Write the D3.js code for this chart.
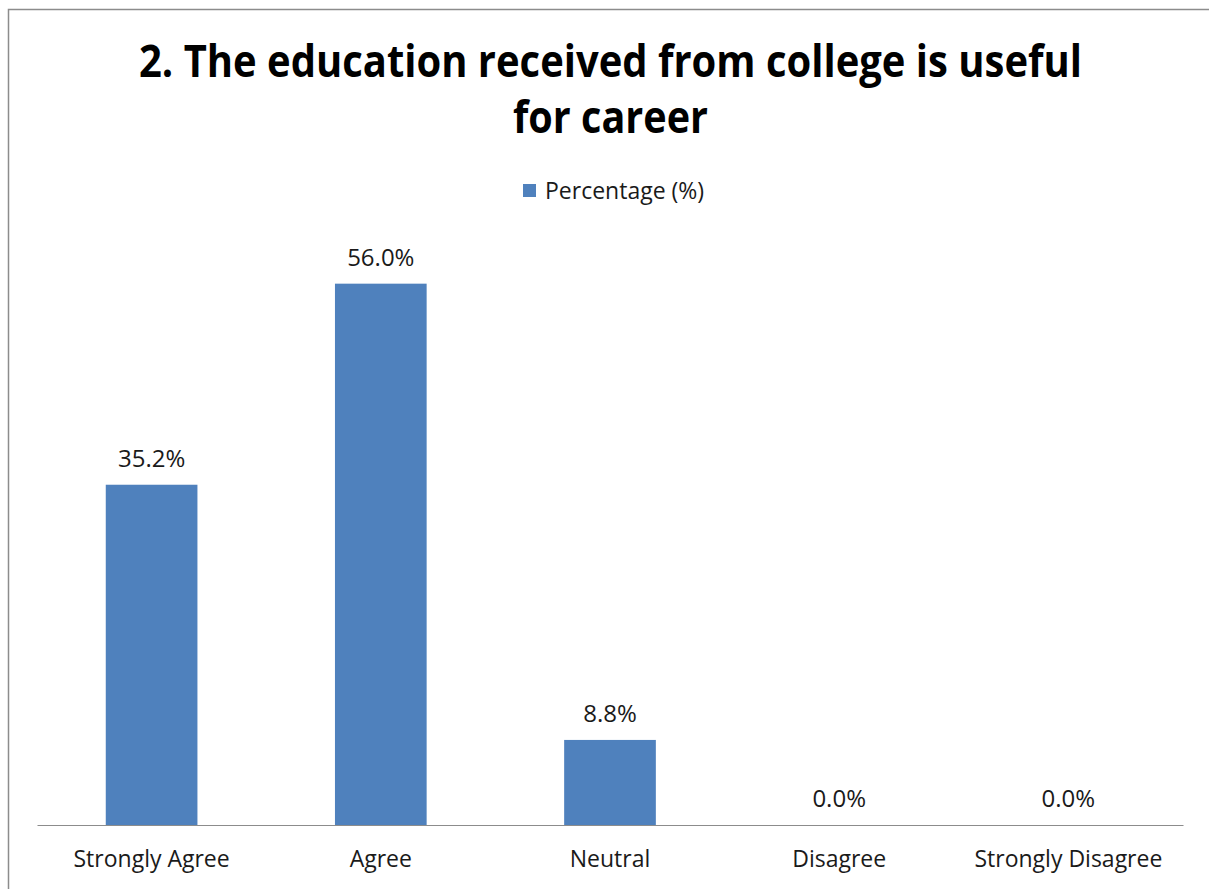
<!DOCTYPE html>
<html>
<head>
<meta charset="utf-8">
<script src="https://cdn.jsdelivr.net/npm/d3@7"></script>
<style>
  body { margin: 0; background: #fff; }
  text { font-family: "Open Sans", "Noto Sans", sans-serif; }
</style>
</head>
<body>
<div id="chart"></div>
<script>
// chart data
var categories = ["Strongly Agree", "Agree", "Neutral", "Disagree", "Strongly Disagree"];
var percentages = [35.2, 56.0, 8.8, 0.0, 0.0];
var seriesName = "Percentage (%)";
var titleLines = ["2. The education received from college is useful", "for career"];

var svgWidth = 1209;
var svgHeight = 889;

var margin = {
    top: 245,
    right: 26,
    bottom: 64,
    left: 37
};

var width = svgWidth - margin.left - margin.right;
var height = svgHeight - margin.top - margin.bottom;

var svg = d3
    .select("#chart")
    .append("svg")
    .attr("width", svgWidth)
    .attr("height", svgHeight);

// chart border (runs off the right and bottom edge in the picture)
svg.append("rect")
    .attr("x", 8.5)
    .attr("y", 9.5)
    .attr("width", svgWidth + 20)
    .attr("height", svgHeight + 20)
    .attr("fill", "none")
    .attr("stroke", "#8c8c8c")
    .attr("stroke-width", 1.5);

// title
var titleWidths = [943, 195];
svg.selectAll(".title")
    .data(titleLines)
    .enter()
    .append("text")
    .attr("class", "title")
    .attr("x", 610.5)
    .attr("y", (d, i) => 77 + i * 56)
    .attr("text-anchor", "middle")
    .attr("font-size", 45)
    .attr("font-weight", "bold")
    .attr("fill", "#000")
    .attr("textLength", (d, i) => titleWidths[i])
    .attr("lengthAdjust", "spacingAndGlyphs")
    .text(d => d);

// legend
var legend = svg.append("g")
    .attr("transform", "translate(523, 184)");

legend.append("rect")
    .attr("width", 13)
    .attr("height", 13)
    .attr("fill", "#4f81bd");

legend.append("text")
    .attr("x", 22)
    .attr("y", 14.5)
    .attr("font-size", 23)
    .attr("fill", "#1a1a1a")
    .text(seriesName);

var chartGroup = svg.append("g")
    .attr("transform", `translate(${margin.left}, ${margin.top})`);

// scales
var xBandScale = d3.scaleBand()
    .domain(categories)
    .range([0, width])
    .paddingInner(0.6)
    .paddingOuter(0.3);

var yLinearScale = d3.scaleLinear()
    .domain([0, 60])
    .range([height, 0]);

// bars
chartGroup.selectAll(".bar")
    .data(percentages)
    .enter()
    .append("rect")
    .attr("class", "bar")
    .attr("x", (d, i) => xBandScale(categories[i]))
    .attr("y", d => yLinearScale(d))
    .attr("width", xBandScale.bandwidth())
    .attr("height", d => height - yLinearScale(d))
    .attr("fill", "#4f81bd");

// data labels
chartGroup.selectAll(".value")
    .data(percentages)
    .enter()
    .append("text")
    .attr("class", "value")
    .attr("x", (d, i) => xBandScale(categories[i]) + xBandScale.bandwidth() / 2)
    .attr("y", d => yLinearScale(d) - 18)
    .attr("text-anchor", "middle")
    .attr("font-size", 24)
    .attr("fill", "#1a1a1a")
    .text(d => d.toFixed(1) + "%");

// x axis
var bottomAxis = d3.axisBottom(xBandScale)
    .tickSize(0)
    .tickPadding(26);

var xAxis = chartGroup.append("g")
    .attr("transform", `translate(0, ${height})`)
    .call(bottomAxis);

xAxis.select(".domain")
    .attr("stroke", "#8c8c8c")
    .attr("stroke-width", 1.2);

xAxis.selectAll("text")
    .attr("font-size", 23)
    .attr("font-family", "'Open Sans', 'Noto Sans', sans-serif")
    .attr("fill", "#1a1a1a");
</script>
</body>
</html>
